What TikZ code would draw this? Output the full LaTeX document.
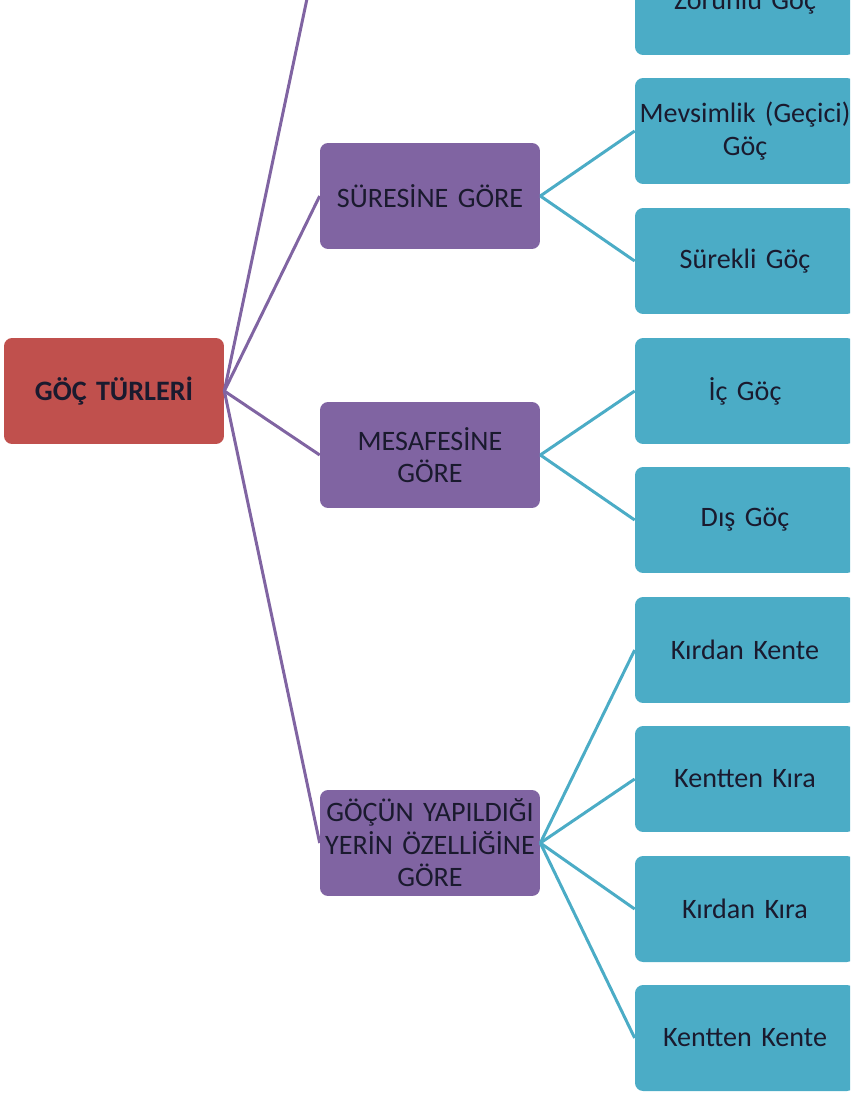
\documentclass[tikz,border=0pt]{standalone}
\usepackage{fontspec}
\setmainfont{Carlito}
\definecolor{rootred}{HTML}{C0504D}
\definecolor{catpurple}{HTML}{8064A2}
\definecolor{leafteal}{HTML}{4BACC6}
\definecolor{inktext}{HTML}{1A1A2E}
\usetikzlibrary{positioning}
\newcommand{\branch}[3]
{
	\draw[#1, line width=1.7pt] (#2.east) -- (#3.west)
}

\begin{document}
\begin{tikzpicture}[x=0.02cm, y=-0.02cm, every node/.append style={shape=rectangle, rounded corners=0.16cm, align=center, minimum width=4.4cm, minimum height=2.12cm, text width=4.3cm, inner sep=0pt, text=inktext, font=\fontsize{16}{18.5}\selectfont}]
	\clip (0,0) rectangle (850,1094);
	\node[fill=rootred, font=\fontsize{16}{18.5}\selectfont\bfseries] (root) at (114,391) {GÖÇ TÜRLERİ};
	\node[fill=catpurple] (sure) at (430,196) {SÜRESİNE GÖRE};
	\node[fill=catpurple] (mesafe) at (430,455) {MESAFESİNE\\GÖRE};
	\node[fill=catpurple] (yer) at (430,843) {GÖÇÜN YAPILDIĞI\\YERİN ÖZELLİĞİNE\\GÖRE};
	\coordinate (neden) at (320,-63);
		\foreach \n/\y/\t in {1/2/Zorunlu Göç, 2/131/{Mevsimlik (Geçici)\\Göç}, 3/261/Sürekli Göç, 4/391/İç Göç, 5/520/Dış Göç, 6/650/Kırdan Kente, 7/779/Kentten Kıra, 8/909/Kırdan Kıra, 9/1038/Kentten Kente}
			\node[fill=leafteal] (l\n) at (745,\y) {\t};
		\draw[catpurple, line width=1.7pt] (root.east) -- (neden);
		\foreach \c in {sure, mesafe, yer}
			\branch{catpurple}{root}{\c};
		\foreach \c/\n in {sure/2, sure/3, mesafe/4, mesafe/5, yer/6, yer/7, yer/8, yer/9}
			\branch{leafteal}{\c}{l\n};
	\end{tikzpicture}
\end{document}
